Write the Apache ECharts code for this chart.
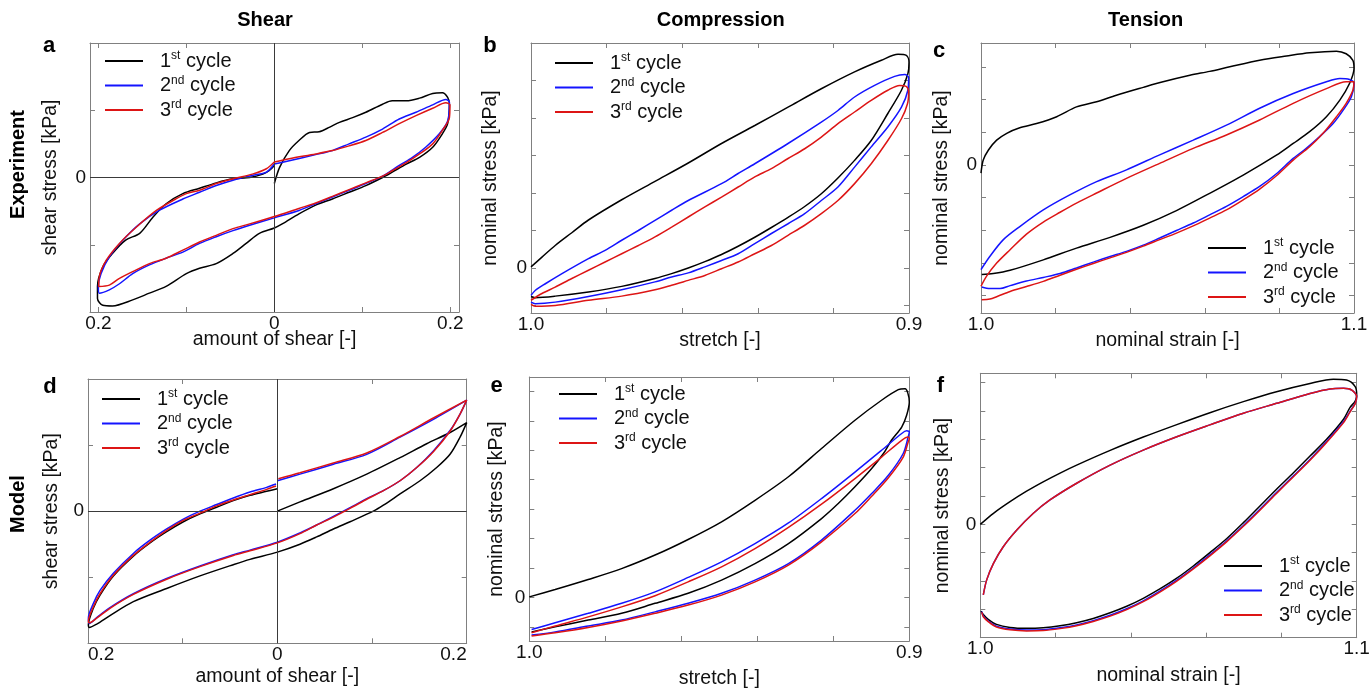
<!DOCTYPE html>
<html>
<head>
<meta charset="utf-8">
<script src="https://cdn.jsdelivr.net/npm/echarts@6/dist/echarts.min.js"></script>
<style>html,body{margin:0;padding:0;background:#fff}#c{width:1371px;height:688px}</style>
</head>
<body>
<div id="c"></div>
<script>
// ---------- data ----------
const cycleNames = ['1st cycle', '2nd cycle', '3rd cycle'];
const cycleColors = ['#000000', '#1414ff', '#dd1515'];

const shearTicks = [-0.2, -0.1, 0, 0.1, 0.2];
const shearTickLabels = [-0.2, 0, 0.2];
const compTicks = [0.9, 0.92, 0.94, 0.96, 0.98, 1.0];
const compTickLabels = [1.0, 0.9];
const tensTicks = [1.0, 1.02, 1.04, 1.06, 1.08, 1.1];
const tensTickLabels = [1.0, 1.1];
const yTicksA = [-1, 0, 1];
const yTicksB = [-1, 0, 1, 2, 3, 4, 5];
const yTicksC = [-4, -3, -2, -1, 0, 1, 2, 3];
const yTicksD = [-1, 0, 1];
const yTicksE = [-1, 0, 1, 2, 3, 4, 5, 6, 7];
const yTicksF = [-3, -2, -1, 0, 1, 2, 3, 4, 5];
const yTickLabels = [0];

// a: experiment, shear
const shearExp1 = [[0,-0.09],[0.006,0.15],[0.017,0.40],[0.028,0.55],[0.040,0.67],[0.051,0.68],[0.063,0.75],[0.074,0.82],[0.089,0.89],[0.104,0.97],[0.123,1.09],[0.134,1.14],[0.150,1.14],[0.165,1.18],[0.180,1.25],[0.191,1.26],[0.197,1.19],[0.199,1.09],[0.197,0.80],[0.191,0.65],[0.180,0.45],[0.165,0.30],[0.150,0.20],[0.134,0.08],[0.123,0],[0.104,-0.12],[0.085,-0.22],[0.066,-0.32],[0.047,-0.41],[0.028,-0.54],[0.009,-0.69],[0,-0.75],[-0.017,-0.83],[-0.032,-0.98],[-0.047,-1.13],[-0.066,-1.28],[-0.085,-1.35],[-0.100,-1.43],[-0.123,-1.62],[-0.142,-1.72],[-0.161,-1.82],[-0.184,-1.91],[-0.195,-1.90],[-0.201,-1.80],[-0.201,-1.62],[-0.195,-1.33],[-0.184,-1.13],[-0.169,-0.93],[-0.153,-0.83],[-0.138,-0.59],[-0.123,-0.39],[-0.104,-0.24],[-0.085,-0.16],[-0.066,-0.08],[-0.047,-0.02],[-0.028,0],[-0.013,0.05],[-0.006,0.10],[0,0.18]];
const shearExp2 = [[0,0.20],[0.017,0.25],[0.047,0.34],[0.066,0.40],[0.085,0.50],[0.104,0.60],[0.123,0.72],[0.142,0.87],[0.161,0.97],[0.180,1.08],[0.195,1.16],[0.199,1.12],[0.197,0.84],[0.1875,0.65],[0.172,0.45],[0.157,0.30],[0.142,0.18],[0.123,0.02],[0.104,-0.09],[0.085,-0.19],[0.066,-0.29],[0.047,-0.39],[0.028,-0.49],[0,-0.60],[-0.028,-0.71],[-0.047,-0.79],[-0.066,-0.88],[-0.085,-0.98],[-0.104,-1.11],[-0.123,-1.20],[-0.142,-1.30],[-0.161,-1.43],[-0.176,-1.58],[-0.1875,-1.67],[-0.199,-1.72],[-0.200,-1.62],[-0.197,-1.43],[-0.1875,-1.18],[-0.172,-0.93],[-0.153,-0.69],[-0.131,-0.49],[-0.104,-0.32],[-0.085,-0.22],[-0.066,-0.12],[-0.047,-0.04],[-0.025,0.03],[-0.009,0.08],[0,0.20]];
const shearExp3 = [[0,0.23],[0.017,0.28],[0.047,0.35],[0.066,0.40],[0.085,0.47],[0.104,0.55],[0.123,0.67],[0.142,0.80],[0.161,0.92],[0.180,1.03],[0.195,1.11],[0.1996,1.08],[0.199,0.89],[0.191,0.70],[0.180,0.50],[0.165,0.35],[0.150,0.22],[0.134,0.10],[0.123,0.02],[0.104,-0.08],[0.085,-0.18],[0.066,-0.28],[0.047,-0.38],[0.028,-0.46],[0,-0.58],[-0.028,-0.69],[-0.047,-0.76],[-0.066,-0.86],[-0.085,-0.96],[-0.104,-1.08],[-0.123,-1.20],[-0.142,-1.28],[-0.161,-1.40],[-0.176,-1.50],[-0.1875,-1.60],[-0.1996,-1.62],[-0.199,-1.48],[-0.191,-1.23],[-0.176,-0.98],[-0.157,-0.74],[-0.134,-0.49],[-0.112,-0.32],[-0.100,-0.24],[-0.085,-0.19],[-0.066,-0.09],[-0.047,-0.02],[-0.025,0.05],[-0.009,0.13],[0,0.23]];

// b: experiment, compression
const compExp1 = [[1.0,0.03],[0.9971,0.29],[0.9936,0.60],[0.9892,0.94],[0.9848,1.28],[0.9760,1.82],[0.9672,2.31],[0.9584,2.80],[0.9496,3.32],[0.9408,3.80],[0.9320,4.29],[0.9232,4.78],[0.9144,5.23],[0.9073,5.54],[0.9029,5.70],[0.9007,5.67],[0.9000,5.49],[0.9003,5.18],[0.9020,4.74],[0.9056,4.12],[0.9100,3.40],[0.9144,2.87],[0.9188,2.40],[0.9232,1.98],[0.9276,1.64],[0.9320,1.35],[0.9364,1.08],[0.9408,0.82],[0.9452,0.58],[0.9496,0.36],[0.9540,0.17],[0.9584,0.00],[0.9628,-0.15],[0.9672,-0.28],[0.9760,-0.49],[0.9848,-0.64],[0.9936,-0.75],[0.9989,-0.79],[1.0,-0.76]];
const compExp2 = [[1.0,-0.73],[0.9989,-0.60],[0.9962,-0.42],[0.9918,-0.15],[0.9848,0.25],[0.9804,0.47],[0.9760,0.74],[0.9716,1.00],[0.9672,1.27],[0.9628,1.54],[0.9584,1.80],[0.9496,2.25],[0.9452,2.52],[0.9408,2.78],[0.9320,3.32],[0.9232,3.89],[0.9188,4.20],[0.9144,4.56],[0.9091,4.87],[0.9038,5.11],[0.9011,5.16],[0.9001,5.08],[0.9003,4.74],[0.9020,4.29],[0.9056,3.76],[0.9100,3.23],[0.9144,2.69],[0.9188,2.16],[0.9232,1.80],[0.9276,1.45],[0.9320,1.18],[0.9364,0.92],[0.9408,0.65],[0.9452,0.38],[0.9496,0.20],[0.9540,0.03],[0.9584,-0.13],[0.9628,-0.24],[0.9672,-0.37],[0.9760,-0.58],[0.9848,-0.76],[0.9936,-0.91],[0.9989,-0.95],[1.0,-0.91]];
const compExp3 = [[1.0,-0.86],[0.9971,-0.68],[0.9936,-0.51],[0.9892,-0.28],[0.9848,-0.06],[0.9804,0.16],[0.9760,0.38],[0.9716,0.60],[0.9672,0.83],[0.9628,1.09],[0.9584,1.36],[0.9540,1.63],[0.9496,1.89],[0.9452,2.16],[0.9408,2.43],[0.9364,2.65],[0.9320,2.92],[0.9276,3.18],[0.9232,3.49],[0.9188,3.85],[0.9144,4.16],[0.9100,4.47],[0.9056,4.74],[0.9025,4.87],[0.9007,4.84],[0.9001,4.69],[0.9004,4.38],[0.9020,3.98],[0.9056,3.40],[0.9100,2.78],[0.9144,2.25],[0.9188,1.80],[0.9232,1.45],[0.9276,1.14],[0.9320,0.87],[0.9364,0.60],[0.9408,0.38],[0.9452,0.16],[0.9496,-0.02],[0.9540,-0.20],[0.9584,-0.33],[0.9628,-0.46],[0.9672,-0.58],[0.9760,-0.75],[0.9848,-0.86],[0.9936,-1.00],[0.9989,-1.02],[1.0,-0.97]];

// c: experiment, tension
const tensExp1 = [[1.0,-0.25],[1.0006,0.15],[1.0020,0.46],[1.0042,0.76],[1.0069,0.97],[1.0104,1.14],[1.0149,1.27],[1.0203,1.48],[1.0256,1.78],[1.0310,1.94],[1.0363,2.14],[1.0435,2.38],[1.0488,2.55],[1.0560,2.75],[1.0613,2.87],[1.0667,3.01],[1.0747,3.21],[1.0819,3.34],[1.0881,3.44],[1.0953,3.49],[1.0979,3.41],[1.0997,3.21],[1.1000,2.96],[1.0988,2.50],[1.0962,1.99],[1.0926,1.48],[1.0881,1.02],[1.0837,0.66],[1.0792,0.30],[1.0703,-0.31],[1.0613,-0.87],[1.0524,-1.40],[1.0435,-1.85],[1.0346,-2.22],[1.0256,-2.55],[1.0167,-2.91],[1.0078,-3.23],[1.0033,-3.33],[1.0002,-3.36]];
const tensExp2 = [[1.0,-3.21],[1.0024,-2.80],[1.0060,-2.29],[1.0104,-1.89],[1.0167,-1.38],[1.0238,-0.92],[1.0310,-0.51],[1.0390,-0.15],[1.0479,0.31],[1.0569,0.76],[1.0658,1.22],[1.0747,1.74],[1.0837,2.19],[1.0926,2.55],[1.0962,2.65],[1.0988,2.62],[1.1000,2.50],[1.0993,2.09],[1.0971,1.68],[1.0944,1.27],[1.0908,0.87],[1.0872,0.51],[1.0837,0.20],[1.0792,-0.27],[1.0747,-0.66],[1.0703,-0.97],[1.0658,-1.27],[1.0613,-1.53],[1.0569,-1.78],[1.0524,-2.01],[1.0479,-2.24],[1.0435,-2.46],[1.0390,-2.65],[1.0346,-2.81],[1.0301,-2.98],[1.0256,-3.16],[1.0212,-3.33],[1.0167,-3.45],[1.0122,-3.56],[1.0078,-3.70],[1.0051,-3.79],[1.0024,-3.79],[1.0002,-3.74]];
const tensExp3 = [[1.0,-3.72],[1.0015,-3.41],[1.0042,-3.01],[1.0078,-2.60],[1.0122,-2.12],[1.0167,-1.75],[1.0212,-1.45],[1.0256,-1.17],[1.0310,-0.86],[1.0390,-0.41],[1.0479,0.05],[1.0569,0.51],[1.0658,0.92],[1.0747,1.38],[1.0837,1.89],[1.0926,2.34],[1.0979,2.55],[1.1000,2.55],[1.0997,2.29],[1.0979,1.89],[1.0953,1.48],[1.0917,0.97],[1.0881,0.56],[1.0837,0.15],[1.0792,-0.33],[1.0747,-0.74],[1.0703,-1.07],[1.0658,-1.38],[1.0613,-1.63],[1.0569,-1.87],[1.0524,-2.09],[1.0479,-2.29],[1.0435,-2.49],[1.0390,-2.68],[1.0346,-2.85],[1.0301,-3.02],[1.0256,-3.20],[1.0212,-3.38],[1.0167,-3.57],[1.0122,-3.73],[1.0078,-3.88],[1.0042,-4.04],[1.0024,-4.11],[1.0002,-4.13]];

// d: model, shear
const shearMod1 = [[0,0],[0.0239,0.14],[0.0592,0.34],[0.0944,0.56],[0.1296,0.81],[0.1577,1.02],[0.1824,1.19],[0.2000,1.34],[0.1930,1.12],[0.1824,0.86],[0.1683,0.66],[0.1507,0.46],[0.1296,0.26],[0.1120,0.09],[0.1014,0],[0.0768,-0.16],[0.0592,-0.27],[0.0415,-0.39],[0.0239,-0.50],[0,-0.62],[-0.0289,-0.73],[-0.0465,-0.81],[-0.0817,-0.98],[-0.1169,-1.17],[-0.1521,-1.37],[-0.1768,-1.58],[-0.1908,-1.71],[-0.1986,-1.76],[-0.1996,-1.72],[-0.1944,-1.47],[-0.1873,-1.27],[-0.1732,-0.98],[-0.1521,-0.68],[-0.1345,-0.48],[-0.1169,-0.31],[-0.0993,-0.16],[-0.0817,-0.04],[-0.0641,0.06],[-0.0465,0.16],[-0.0289,0.24],[-0.0113,0.30],[0,0.34]];
const shearMod2 = [[0,0.46],[0.0239,0.56],[0.0592,0.71],[0.0944,0.86],[0.1296,1.12],[0.1648,1.39],[0.2000,1.68],[0.1930,1.47],[0.1824,1.22],[0.1648,0.91],[0.1472,0.66],[0.1296,0.46],[0.1120,0.31],[0.0944,0.19],[0.0803,0.08],[0.0592,-0.08],[0.0415,-0.21],[0.0239,-0.33],[0,-0.47],[-0.0289,-0.59],[-0.0465,-0.66],[-0.0817,-0.83],[-0.1169,-1.02],[-0.1521,-1.25],[-0.1768,-1.46],[-0.1908,-1.61],[-0.1986,-1.70],[-0.1996,-1.62],[-0.1944,-1.40],[-0.1873,-1.20],[-0.1732,-0.94],[-0.1521,-0.64],[-0.1345,-0.44],[-0.1169,-0.27],[-0.0993,-0.12],[-0.0817,0],[-0.0641,0.10],[-0.0465,0.20],[-0.0289,0.29],[-0.0113,0.36],[-0.0014,0.41]];
const shearMod3 = [[0.0011,0.49],[0.0239,0.58],[0.0592,0.73],[0.0944,0.88],[0.1296,1.13],[0.1648,1.41],[0.2000,1.68],[0.1930,1.47],[0.1824,1.21],[0.1648,0.90],[0.1472,0.66],[0.1296,0.46],[0.1120,0.31],[0.0944,0.18],[0.0803,0.07],[0.0592,-0.09],[0.0415,-0.21],[0.0239,-0.34],[0,-0.48],[-0.0289,-0.60],[-0.0465,-0.67],[-0.0817,-0.84],[-0.1169,-1.03],[-0.1521,-1.26],[-0.1768,-1.47],[-0.1908,-1.62],[-0.1986,-1.69],[-0.1996,-1.67],[-0.1944,-1.45],[-0.1873,-1.25],[-0.1732,-0.97],[-0.1521,-0.67],[-0.1345,-0.47],[-0.1169,-0.29],[-0.0993,-0.14],[-0.0817,-0.03],[-0.0641,0.08],[-0.0465,0.17],[-0.0289,0.25],[-0.0113,0.33],[-0.0014,0.38]];

// e: model, compression
const compMod1 = [[1.0,0.02],[0.9932,0.27],[0.9845,0.61],[0.9757,0.98],[0.9669,1.44],[0.9582,1.97],[0.9494,2.57],[0.9406,3.30],[0.9318,4.10],[0.9231,5.06],[0.9143,6.02],[0.9073,6.70],[0.9029,7.06],[0.9011,7.09],[0.9004,6.95],[0.9000,6.64],[0.9007,6.19],[0.9020,5.79],[0.9047,5.34],[0.9068,4.89],[0.9099,4.38],[0.9143,3.76],[0.9187,3.19],[0.9231,2.68],[0.9318,1.83],[0.9406,1.15],[0.9494,0.59],[0.9582,0.14],[0.9669,-0.20],[0.9757,-0.54],[0.9845,-0.77],[0.9932,-1.00],[0.9994,-1.17]];
const compMod2 = [[0.9994,-1.09],[0.9932,-0.86],[0.9845,-0.54],[0.9757,-0.20],[0.9669,0.19],[0.9582,0.68],[0.9494,1.21],[0.9406,1.83],[0.9318,2.53],[0.9231,3.36],[0.9143,4.26],[0.9073,5.00],[0.9020,5.57],[0.9007,5.66],[0.9000,5.62],[0.9003,5.45],[0.9016,4.89],[0.9055,4.15],[0.9099,3.53],[0.9143,2.96],[0.9231,1.95],[0.9318,1.15],[0.9406,0.59],[0.9494,0.14],[0.9582,-0.20],[0.9669,-0.49],[0.9757,-0.77],[0.9845,-0.97],[0.9932,-1.17],[0.9994,-1.28]];
const compMod3 = [[0.9994,-1.20],[0.9932,-0.97],[0.9845,-0.66],[0.9757,-0.32],[0.9669,0.06],[0.9582,0.53],[0.9494,1.04],[0.9406,1.66],[0.9318,2.38],[0.9231,3.17],[0.9143,4.04],[0.9073,4.77],[0.9020,5.34],[0.9003,5.45],[0.9000,5.40],[0.9003,5.28],[0.9016,4.77],[0.9055,4.07],[0.9099,3.44],[0.9143,2.85],[0.9231,1.89],[0.9318,1.10],[0.9406,0.53],[0.9494,0.08],[0.9582,-0.26],[0.9669,-0.54],[0.9757,-0.80],[0.9845,-1.02],[0.9932,-1.20],[0.9994,-1.31]];

// f: model, tension
const tensMod1 = [[1.0,0],[1.0035,0.39],[1.0079,0.80],[1.0123,1.17],[1.0167,1.50],[1.0212,1.81],[1.0256,2.09],[1.0345,2.61],[1.0433,3.08],[1.0522,3.52],[1.0610,3.94],[1.0699,4.33],[1.0787,4.68],[1.0876,4.97],[1.0938,5.12],[1.0973,5.09],[1.0996,4.86],[1.1000,4.56],[1.0996,4.35],[1.0982,4.12],[1.0965,3.71],[1.0920,3.00],[1.0876,2.41],[1.0832,1.82],[1.0787,1.24],[1.0743,0.65],[1.0699,0.06],[1.0655,-0.50],[1.0610,-1.00],[1.0566,-1.47],[1.0522,-1.90],[1.0477,-2.28],[1.0433,-2.61],[1.0389,-2.89],[1.0345,-3.12],[1.0300,-3.32],[1.0256,-3.47],[1.0212,-3.58],[1.0167,-3.65],[1.0123,-3.67],[1.0079,-3.64],[1.0043,-3.53],[1.0021,-3.35],[1.0008,-3.18],[1.0002,-3.06]];
const tensMod2 = [[1.0008,-2.49],[1.0017,-1.96],[1.0035,-1.38],[1.0061,-0.79],[1.0097,-0.20],[1.0141,0.39],[1.0185,0.86],[1.0256,1.45],[1.0345,2.09],[1.0433,2.62],[1.0522,3.09],[1.0610,3.51],[1.0699,3.92],[1.0787,4.27],[1.0876,4.62],[1.0929,4.78],[1.0965,4.80],[1.0987,4.74],[1.1000,4.51],[1.0996,4.27],[1.0982,3.98],[1.0965,3.62],[1.0920,2.92],[1.0876,2.29],[1.0832,1.71],[1.0787,1.12],[1.0743,0.53],[1.0699,-0.04],[1.0655,-0.58],[1.0610,-1.08],[1.0566,-1.54],[1.0522,-1.97],[1.0477,-2.36],[1.0433,-2.70],[1.0389,-2.98],[1.0345,-3.21],[1.0300,-3.40],[1.0256,-3.55],[1.0212,-3.65],[1.0167,-3.72],[1.0123,-3.73],[1.0079,-3.69],[1.0043,-3.59],[1.0021,-3.41],[1.0008,-3.24],[1.0004,-3.08]];
const tensMod3 = [[1.0008,-2.49],[1.0017,-1.96],[1.0035,-1.38],[1.0061,-0.79],[1.0097,-0.20],[1.0141,0.39],[1.0185,0.86],[1.0256,1.45],[1.0345,2.09],[1.0433,2.62],[1.0522,3.09],[1.0610,3.51],[1.0699,3.92],[1.0787,4.27],[1.0876,4.62],[1.0929,4.78],[1.0965,4.80],[1.0987,4.74],[1.1000,4.51],[1.0996,4.26],[1.0982,3.96],[1.0965,3.59],[1.0920,2.89],[1.0876,2.26],[1.0832,1.68],[1.0787,1.09],[1.0743,0.50],[1.0699,-0.07],[1.0655,-0.61],[1.0610,-1.11],[1.0566,-1.57],[1.0522,-2.00],[1.0477,-2.39],[1.0433,-2.73],[1.0389,-3.01],[1.0345,-3.24],[1.0300,-3.43],[1.0256,-3.58],[1.0212,-3.68],[1.0167,-3.75],[1.0123,-3.76],[1.0079,-3.72],[1.0043,-3.62],[1.0021,-3.43],[1.0008,-3.26],[1.0004,-3.10]];

// ---------- layout ----------
const FONT = 'Liberation Sans, Arial, Helvetica, sans-serif';
const TXT = '#111111';
const AX = '#808080';

const shearFmt = v => (Math.abs(v) < 1e-9 ? '0' : Math.abs(v).toFixed(1));
const decFmt = v => v.toFixed(1);

const panels = [
  {grid:{left:90, top:43, width:369, height:269}, xMin:-0.2095, xMax:0.2099, inv:false, xTicks:shearTicks, xLabels:shearTickLabels, fmt:shearFmt,
   yMin:-2, yMax:2, yTicks:yTicksA, xName:'amount of shear [-]', yName:'shear stress [kPa]', data:[shearExp1, shearExp2, shearExp3],
   zero:true, leg:{left:105, top:50}, xGap:18, yGap:29, alignEnds:false},
  {grid:{left:531, top:43, width:378, height:270}, xMin:0.9, xMax:1.0, inv:true, xTicks:compTicks, xLabels:compTickLabels, fmt:decFmt,
   yMin:-1.2, yMax:6, yTicks:yTicksB, xName:'stretch [-]', yName:'nominal stress [kPa]', data:[compExp1, compExp2, compExp3],
   zero:false, leg:{left:555, top:52}, xGap:18, yGap:30, alignEnds:false},
  {grid:{left:981, top:43, width:373, height:270}, xMin:1.0, xMax:1.1, inv:false, xTicks:tensTicks, xLabels:tensTickLabels, fmt:decFmt,
   yMin:-4.54, yMax:3.74, yTicks:yTicksC, xName:'nominal strain [-]', yName:'nominal stress [kPa]', data:[tensExp1, tensExp2, tensExp3],
   zero:false, leg:{left:1208, top:237}, xGap:18, yGap:29.5, alignEnds:false},
  {grid:{left:88, top:379, width:378.7, height:264.3}, xMin:-0.2, xMax:0.2, inv:false, xTicks:shearTicks, xLabels:shearTickLabels, fmt:shearFmt,
   yMin:-2, yMax:2, yTicks:yTicksD, xName:'amount of shear [-]', yName:'shear stress [kPa]', data:[shearMod1, shearMod2, shearMod3],
   zero:true, leg:{left:102, top:388}, xGap:23, yGap:26, alignEnds:true},
  {grid:{left:529.3, top:377, width:380, height:264}, xMin:0.9, xMax:1.0, inv:true, xTicks:compTicks, xLabels:compTickLabels, fmt:decFmt,
   yMin:-1.48, yMax:7.49, yTicks:yTicksE, xName:'stretch [-]', yName:'nominal stress [kPa]', data:[compMod1, compMod2, compMod3],
   zero:false, leg:{left:559, top:383}, xGap:27.5, yGap:22.3, alignEnds:false},
  {grid:{left:980.3, top:373.3, width:376.4, height:264.4}, xMin:1.0, xMax:1.1, inv:false, xTicks:tensTicks, xLabels:tensTickLabels, fmt:decFmt,
   yMin:-4.0, yMax:5.33, yTicks:yTicksF, xName:'nominal strain [-]', yName:'nominal stress [kPa]', data:[tensMod1, tensMod2, tensMod3],
   zero:false, leg:{left:1224, top:555}, xGap:28, yGap:27.8, alignEnds:false}
];

const grids = [], xAxes = [], yAxes = [], series = [], legends = [];

panels.forEach((p, i) => {
  grids.push(Object.assign({containLabel:false, outerBoundsMode:'none', show:false}, p.grid));
  ['bottom', 'top'].forEach(pos => {
    const main = pos === 'bottom';
    xAxes.push({
      type:'value', gridIndex:i, position:pos, min:p.xMin, max:p.xMax, inverse:p.inv,
      axisLine:{show:true, onZero:false, lineStyle:{color:AX, width:1}},
      axisTick:{show:true, inside:true, length:5, customValues:p.xTicks, lineStyle:{color:AX, width:1}},
      axisLabel:{show:main, customValues:p.xLabels, formatter:p.fmt, margin:2, fontSize:19, color:TXT, fontFamily:FONT,
                 alignMinLabel: p.alignEnds ? 'left' : null, alignMaxLabel: p.alignEnds ? 'right' : null},
      splitLine:{show:false},
      name: main ? p.xName : '', nameLocation:'middle', nameGap:p.xGap, nameMoveOverlap:false,
      nameTextStyle:{fontSize:19.5, color:TXT, fontFamily:FONT}
    });
  });
  ['left', 'right'].forEach(pos => {
    const main = pos === 'left';
    yAxes.push({
      type:'value', gridIndex:i, position:pos, min:p.yMin, max:p.yMax,
      axisLine:{show:true, onZero:false, lineStyle:{color:AX, width:1}},
      axisTick:{show:true, inside:true, length:5, customValues:p.yTicks, lineStyle:{color:AX, width:1}},
      axisLabel:{show:main, customValues:yTickLabels, formatter:v => String(Math.round(v)), margin:4, fontSize:19, color:TXT, fontFamily:FONT},
      splitLine:{show:false},
      name: main ? p.yName : '', nameLocation:'middle', nameGap:p.yGap, nameMoveOverlap:false,
      nameTextStyle:{fontSize:19.5, color:TXT, fontFamily:FONT}
    });
  });
  p.data.forEach((d, k) => {
    const s = {
      type:'line', name:cycleNames[k], xAxisIndex:2 * i, yAxisIndex:2 * i, data:d,
      symbol:'none', showSymbol:false, smooth:0.3, z:3 + k,
      lineStyle:{color:cycleColors[k], width:1.5}, itemStyle:{color:cycleColors[k]},
      emphasis:{disabled:true}, animation:false
    };
    if (p.zero && k === 0) {
      s.markLine = {silent:true, symbol:['none', 'none'], label:{show:false}, animation:false,
                    lineStyle:{color:'#3a3a3a', width:1, type:'solid'}, emphasis:{disabled:true},
                    data:[{yAxis:0}, {xAxis:0}]};
    }
    series.push(s);
  });
  legends.push({
    left:p.leg.left, top:p.leg.top, orient:'vertical', padding:0, itemGap:2.5, itemWidth:38, itemHeight:2,
    icon:'rect', selectedMode:false, data:cycleNames,
    formatter: n => { const m = n.match(/^(\d)(\w\w) (.*)$/); return m[1] + '{s|' + m[2] + '} ' + m[3]; },
    textStyle:{fontSize:20, lineHeight:22, color:TXT, fontFamily:FONT, padding:[0, 0, 0, 12],
               rich:{s:{fontSize:12, lineHeight:13, verticalAlign:'top', color:TXT, fontFamily:FONT}}}
  });
});

function txt(str, x, y, size, opts) {
  opts = opts || {};
  return {
    type:'text', x:x, y:y, rotation:opts.rot || 0, silent:true,
    style:{text:str, font:'bold ' + size + 'px ' + FONT, fill:'#000',
           align:'center', textAlign:'center', verticalAlign:'middle', textVerticalAlign:'middle'}
  };
}

const graphics = [
  txt('Shear', 265, 20, 20), txt('Compression', 720.7, 20, 20), txt('Tension', 1145.7, 20, 20),
  txt('a', 49.2, 45.6, 22), txt('b', 490, 46.3, 22), txt('c', 939, 50.6, 22),
  txt('d', 50, 387.3, 22), txt('e', 496.7, 385.6, 22), txt('f', 940.5, 385.6, 22),
  txt('Experiment', 18.5, 164.5, 20, {rot:Math.PI / 2}), txt('Model', 18.8, 504, 20, {rot:Math.PI / 2})
];

const chart = echarts.init(document.getElementById('c'), null, {renderer:'canvas'});
chart.setOption({
  animation:false, backgroundColor:'#ffffff',
  grid:grids, xAxis:xAxes, yAxis:yAxes, series:series, legend:legends, graphic:graphics
});
</script>
</body>
</html>
